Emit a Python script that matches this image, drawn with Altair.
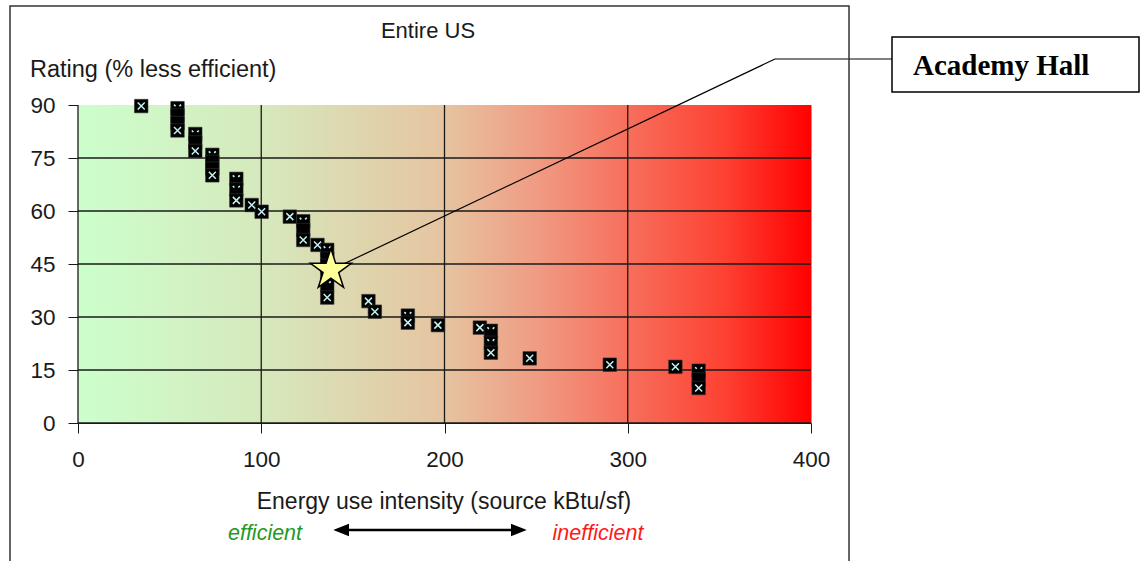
import altair as alt
import pandas as pd

# Buildings: source energy use intensity (kBtu/sf) vs. rating (% less efficient)
eui = [34.5,
       54.3, 54.3, 54.3, 54.3,
       64.0, 64.0, 64.0,
       73.3, 73.3, 73.3, 73.3,
       86.4, 86.4, 86.4,
       94.8, 100.2, 115.6,
       122.9, 122.9, 122.9,
       130.7,
       136.0, 136.0, 136.0, 136.0, 136.0, 136.0,
       158.5, 162.0,
       180.0, 180.0,
       196.4, 219.3,
       225.3, 225.3, 225.3,
       246.5, 290.2, 326.0,
       338.7, 338.7, 338.7]
rating = [89.7,
          89.1, 87.0, 84.9, 82.8,
          81.8, 79.4, 77.0,
          75.9, 73.9, 72.0, 70.1,
          69.1, 66.1, 63.0,
          61.7, 59.8, 58.4,
          57.1, 54.6, 51.8,
          50.4,
          49.0, 46.5, 44.5, 42.0, 39.1, 35.5,
          34.5, 31.5,
          30.4, 28.4,
          27.7, 27.0,
          26.1, 22.7, 19.9,
          18.3, 16.5, 15.9,
          14.8, 12.3, 9.9]

star_eui = [138.0]
star_rating = [43.3]
star_label = "Academy Hall"

chart_title = "Entire US"
y_title = "Rating (% less efficient)"
x_title = "Energy use intensity (source kBtu/sf)"
left_note = "efficient"
right_note = "inefficient"

x_ticks = [0, 100, 200, 300, 400]
y_ticks = [0, 15, 30, 45, 60, 75, 90]

W, H = 733, 318
PX_X = W / 400
PX_Y = H / 90
FONT = "Liberation Sans"
INK = "#1a1a1a"

# Each marker is a black square with a pale cross. In a stack, the square
# below hides the lower half of the cross above it; a cross that is also
# tucked close under the previous square disappears entirely.
def same_stack(i, j):
    return abs(eui[i] - eui[j]) * PX_X < 4

glyph = []
for i in range(len(eui)):
    covered = (i + 1 < len(eui) and same_stack(i, i + 1)
               and 0 < (rating[i] - rating[i + 1]) * PX_Y < 13)
    tucked = (i > 0 and same_stack(i, i - 1)
              and 0 < (rating[i - 1] - rating[i]) * PX_Y < 9.5)
    if not covered:
        glyph.append("full")
    elif tucked:
        glyph.append("none")
    else:
        glyph.append("top")

pts = pd.DataFrame({"eui": eui, "rating": rating, "glyph": glyph})
star = pd.DataFrame({"eui": star_eui, "rating": star_rating})
one = pd.DataFrame({"k": [0]})

xs = alt.Scale(domain=[0, 400], nice=False, zero=True)
ys = alt.Scale(domain=[0, 90], nice=False, zero=True)
axis_common = dict(title="", grid=False, tickSize=10, labelFontSize=22.5,
                   labelFont=FONT, labelColor=INK, tickColor=INK,
                   domainColor=INK, labelFlush=False)
xaxis = alt.Axis(values=x_ticks, labelPadding=15, **axis_common)
yaxis = alt.Axis(values=y_ticks, labelPadding=13, **axis_common)

X = alt.X("eui:Q", scale=xs, axis=xaxis)
Y = alt.Y("rating:Q", scale=ys, axis=yaxis)

# plot-area background: green (efficient) to red (inefficient)
background = alt.Chart(one).mark_rect(
    fill=alt.Gradient(
        gradient="linear", x1=0, x2=1, y1=0, y2=0,
        stops=[
            alt.GradientStop(color="#ccffcc", offset=0.0),
            alt.GradientStop(color="#d6e9bd", offset=0.25),
            alt.GradientStop(color="#e6c4a0", offset=0.5),
            alt.GradientStop(color="#f09a82", offset=0.63),
            alt.GradientStop(color="#f76f5c", offset=0.75),
            alt.GradientStop(color="#fd4233", offset=0.88),
            alt.GradientStop(color="#ff0000", offset=1.0),
        ],
    )
).encode(x=alt.value(0), x2=alt.value(W), y=alt.value(0), y2=alt.value(H))

vgrid = alt.Chart(pd.DataFrame({"eui": x_ticks[:-1]})).mark_rule(
    color=INK, strokeWidth=1.3).encode(x=X)
hgrid = alt.Chart(pd.DataFrame({"rating": y_ticks[:-1]})).mark_rule(
    color=INK, strokeWidth=1.3).encode(y=Y)

squares = alt.Chart(pts).mark_point(
    shape="square", filled=True, fill="#000000", stroke="#333333",
    strokeWidth=0.6, size=182, opacity=1).encode(x=X, y=Y)

full_x = "M-1,-1L1,1M-1,1L1,-1"
top_x = "M-1,-1L-0.55,-0.55M1,-1L0.55,-0.55"
glyph_full = alt.Chart(pts).transform_filter("datum.glyph == 'full'").mark_point(
    shape=full_x, filled=False, stroke="#c4f2f2", strokeWidth=1.5,
    size=49, opacity=1).encode(x=X, y=Y)
glyph_top = alt.Chart(pts).transform_filter("datum.glyph == 'top'").mark_point(
    shape=top_x, filled=False, stroke="#c4f2f2", strokeWidth=1.6,
    size=49, opacity=1).encode(x=X, y=Y)

# callout leader: from the star up to the label box
leader = alt.Chart(star).mark_rule(color="#000000", strokeWidth=1.2).encode(
    x=X, y=Y, x2=alt.value(697), y2=alt.value(-46))
leader_h = alt.Chart(one).mark_rule(color="#000000", strokeWidth=1.2).encode(
    x=alt.value(697), x2=alt.value(814), y=alt.value(-46), y2=alt.value(-46))

star_path = ("M0,-1L0.2245,-0.309L0.951,-0.309L0.363,0.118L0.588,0.809"
             "L0,0.382L-0.588,0.809L-0.363,0.118L-0.951,-0.309L-0.2245,-0.309Z")
star_mark = alt.Chart(star).mark_point(
    shape=star_path, filled=True, fill="#ffff99", stroke="#000000",
    strokeWidth=1.5, size=1849, opacity=1).encode(x=X, y=Y)

label_box = alt.Chart(one).mark_rect(
    fill="#ffffff", stroke="#000000", strokeWidth=1.5).encode(
    x=alt.value(814), x2=alt.value(1061), y=alt.value(-68), y2=alt.value(-13))
label_text = alt.Chart(one).mark_text(
    text=star_label, font="Liberation Serif", fontWeight="bold", fontSize=29,
    align="left", baseline="alphabetic", color="#000000").encode(
    x=alt.value(835), y=alt.value(-30))

frame = alt.Chart(one).mark_rect(
    fill="transparent", stroke="#333333", strokeWidth=1.5).encode(
    x=alt.value(10 - 78), x2=alt.value(849 - 78),
    y=alt.value(6 - 105), y2=alt.value(563 - 105))


def note(text, x, y, size=23, **kw):
    return alt.Chart(one).mark_text(
        text=text, font=FONT, fontSize=size, baseline="alphabetic", **kw
    ).encode(x=alt.value(x), y=alt.value(y))


title_t = note(chart_title, 350, -67, size=22, align="center", color=INK)
ytitle_t = note(y_title, -48, -28, size=23.5, align="left", color=INK)
xtitle_t = note(x_title, 366, 404, size=23, align="center", color=INK)
eff_t = note(left_note, 187, 435, size=21.5, align="center",
             fontStyle="italic", color="#1f9a1f")
ineff_t = note(right_note, 520, 435, size=21.5, align="center",
               fontStyle="italic", color="#ff1a1a")

arrow_line = alt.Chart(one).mark_rule(color="#000000", strokeWidth=2.5).encode(
    x=alt.value(264), x2=alt.value(440), y=alt.value(425), y2=alt.value(425))
head_l = alt.Chart(one).mark_point(
    shape="M-1,0L1,-0.8L1,0.8Z", filled=True, fill="#000000", stroke="#000000",
    size=144, opacity=1).encode(x=alt.value(264), y=alt.value(425))
head_r = alt.Chart(one).mark_point(
    shape="M1,0L-1,-0.8L-1,0.8Z", filled=True, fill="#000000", stroke="#000000",
    size=144, opacity=1).encode(x=alt.value(440), y=alt.value(425))

chart = alt.layer(
    background, vgrid, hgrid, squares, glyph_full, glyph_top,
    leader, leader_h, star_mark, label_box, label_text, frame,
    title_t, ytitle_t, xtitle_t, eff_t, ineff_t, arrow_line, head_l, head_r,
).properties(
    width=W, height=H,
    autosize=alt.AutoSizeParams(type="none"),
    padding={"left": 78, "top": 105, "right": 1146 - 78 - W, "bottom": 561 - 105 - H},
    background="#ffffff",
).configure_view(stroke="#a0a0a0", strokeWidth=1)

chart.save("out.html", embed_options={"renderer": "svg", "actions": False})
